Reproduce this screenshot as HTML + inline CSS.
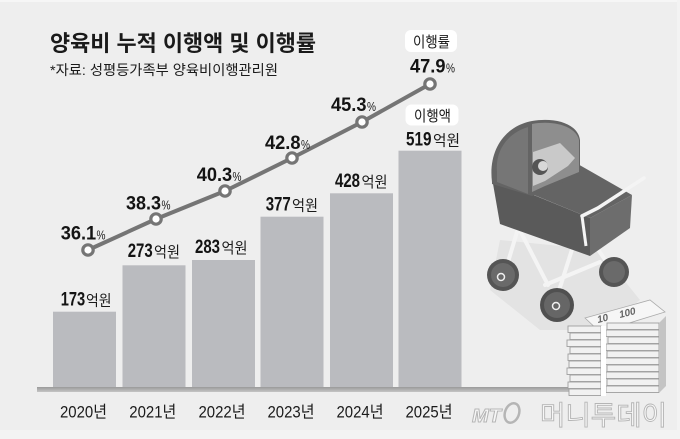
<!DOCTYPE html>
<html><head><meta charset="utf-8">
<style>
html,body{margin:0;padding:0;background:#eeeeee;}
svg{display:block;}
.num{font-family:"Liberation Sans",sans-serif;font-weight:bold;fill:#141414;}
.kr{font-family:"Liberation Sans","Noto Sans CJK KR",sans-serif;fill:#1a1a1a;}
</style></head><body>
<svg width="680" height="439" viewBox="0 0 680 439" xmlns="http://www.w3.org/2000/svg">
<rect x="0" y="0" width="680" height="439" fill="#eeeeee"/>
<rect x="0" y="0" width="680" height="2" fill="#f6f6f6"/>
<rect x="0" y="430" width="680" height="9" fill="#f3f3f3"/>
<rect x="677" y="0" width="3" height="439" fill="#f3f3f3"/>

<!-- Title -->
<text class="kr" x="50" y="51" font-size="22" font-weight="bold" textLength="266" lengthAdjust="spacingAndGlyphs">양육비 누적 이행액 및 이행률</text>
<text class="kr" x="50" y="75" font-size="14" textLength="228" lengthAdjust="spacingAndGlyphs" fill="#222">*자료: 성평등가족부 양육비이행관리원</text>

<!-- Bars -->
<g fill="#babbbf">
<rect x="53" y="311.7" width="63" height="77"/>
<rect x="122.5" y="265.3" width="63" height="123.4"/>
<rect x="192" y="260" width="63" height="128.7"/>
<rect x="260.5" y="216.7" width="63" height="172"/>
<rect x="330" y="193.3" width="63" height="195.4"/>
<rect x="398.5" y="150.7" width="63" height="238"/>
</g>
<defs>
<linearGradient id="ax" x1="0" y1="0" x2="0" y2="1">
<stop offset="0" stop-color="#9a9a9a"/><stop offset="1" stop-color="#c4c4c4"/>
</linearGradient>
</defs>
<rect x="37" y="387" width="540" height="5" fill="url(#ax)"/>

<!-- bar value labels -->
<g>
<text class="num" x="60.7" y="305.5" font-size="19" textLength="24.5" lengthAdjust="spacingAndGlyphs">173</text>
<text class="kr" x="86" y="305.5" font-size="15" textLength="25.5" lengthAdjust="spacingAndGlyphs">억원</text>
<text class="num" x="127.7" y="257" font-size="19" textLength="25" lengthAdjust="spacingAndGlyphs">273</text>
<text class="kr" x="154" y="257" font-size="15" textLength="26" lengthAdjust="spacingAndGlyphs">억원</text>
<text class="num" x="195" y="252.8" font-size="19" textLength="25" lengthAdjust="spacingAndGlyphs">283</text>
<text class="kr" x="221.5" y="252.8" font-size="15" textLength="26" lengthAdjust="spacingAndGlyphs">억원</text>
<text class="num" x="265.7" y="210.5" font-size="19" textLength="25" lengthAdjust="spacingAndGlyphs">377</text>
<text class="kr" x="292" y="210.5" font-size="15" textLength="26" lengthAdjust="spacingAndGlyphs">억원</text>
<text class="num" x="335" y="187" font-size="19" textLength="25" lengthAdjust="spacingAndGlyphs">428</text>
<text class="kr" x="361.5" y="187" font-size="15" textLength="26" lengthAdjust="spacingAndGlyphs">억원</text>
<text class="num" x="406" y="145.5" font-size="19" textLength="25.5" lengthAdjust="spacingAndGlyphs">519</text>
<text class="kr" x="433" y="145.5" font-size="15" textLength="27" lengthAdjust="spacingAndGlyphs">억원</text>
</g>

<!-- legend boxes -->
<rect x="405" y="30" width="52" height="22" rx="6" fill="#ffffff"/>
<text class="kr" x="413" y="47" font-size="15" textLength="37" lengthAdjust="spacingAndGlyphs" fill="#222">이행률</text>
<rect x="405.5" y="104.5" width="53" height="21" rx="6" fill="#ffffff"/>
<text class="kr" x="414" y="121" font-size="15" textLength="37" lengthAdjust="spacingAndGlyphs" fill="#222">이행액</text>

<!-- line -->
<polyline points="88,250 156,219 225,191 292,158 362,122 430,84" fill="none" stroke="#757575" stroke-width="4" stroke-linejoin="round"/>
<g fill="#ffffff" stroke="#757575" stroke-width="3.2">
<circle cx="88" cy="250" r="5.2"/>
<circle cx="156" cy="219" r="5.2"/>
<circle cx="225" cy="191" r="5.2"/>
<circle cx="292" cy="158" r="5.2"/>
<circle cx="362" cy="122" r="5.2"/>
<circle cx="430" cy="84" r="5.2"/>
</g>

<!-- percent labels -->
<g>
<text class="num" x="60.7" y="239.5" font-size="19" textLength="35.5" lengthAdjust="spacingAndGlyphs">36.1</text>
<text class="kr" x="96.5" y="239.5" font-size="13" textLength="9" lengthAdjust="spacingAndGlyphs">%</text>
<text class="num" x="126" y="209.5" font-size="19" textLength="35" lengthAdjust="spacingAndGlyphs">38.3</text>
<text class="kr" x="161.5" y="209.5" font-size="13" textLength="9" lengthAdjust="spacingAndGlyphs">%</text>
<text class="num" x="196.7" y="181" font-size="19" textLength="35.5" lengthAdjust="spacingAndGlyphs">40.3</text>
<text class="kr" x="232.5" y="181" font-size="13" textLength="9" lengthAdjust="spacingAndGlyphs">%</text>
<text class="num" x="265" y="149" font-size="19" textLength="35.5" lengthAdjust="spacingAndGlyphs">42.8</text>
<text class="kr" x="301" y="149" font-size="13" textLength="9" lengthAdjust="spacingAndGlyphs">%</text>
<text class="num" x="331" y="111" font-size="19" textLength="35.5" lengthAdjust="spacingAndGlyphs">45.3</text>
<text class="kr" x="367" y="111" font-size="13" textLength="9" lengthAdjust="spacingAndGlyphs">%</text>
<text class="num" x="410" y="72.5" font-size="19" textLength="35.5" lengthAdjust="spacingAndGlyphs">47.9</text>
<text class="kr" x="446" y="72.5" font-size="13" textLength="9" lengthAdjust="spacingAndGlyphs">%</text>
</g>

<!-- year labels -->
<g font-size="16.5">
<text class="kr" x="60" y="417.5" textLength="47" lengthAdjust="spacingAndGlyphs">2020년</text>
<text class="kr" x="129.3" y="417.5" textLength="47" lengthAdjust="spacingAndGlyphs">2021년</text>
<text class="kr" x="198.5" y="417.5" textLength="47" lengthAdjust="spacingAndGlyphs">2022년</text>
<text class="kr" x="267.5" y="417.5" textLength="47" lengthAdjust="spacingAndGlyphs">2023년</text>
<text class="kr" x="336.5" y="417.5" textLength="47" lengthAdjust="spacingAndGlyphs">2024년</text>
<text class="kr" x="405.5" y="417.5" textLength="47" lengthAdjust="spacingAndGlyphs">2025년</text>
</g>

<!-- Stroller -->
<g>
<polygon points="500,240 600,250 640,300 600,330 540,330 490,290" fill="#e3e3e3"/>
<g stroke="#f4f4f4" stroke-width="4" stroke-linecap="round" fill="none">
<line x1="512" y1="215" x2="548" y2="285"/>
<line x1="520" y1="222" x2="505" y2="272"/>
<line x1="575" y1="240" x2="556" y2="300"/>
<line x1="595" y1="245" x2="612" y2="270"/>
<line x1="545" y1="285" x2="600" y2="262"/>
</g>
<circle cx="503" cy="275" r="16" fill="#555"/>
<circle cx="503" cy="275" r="12" fill="#6a6a6a"/>
<circle cx="501" cy="277" r="3.5" fill="none" stroke="#f0f0f0" stroke-width="1.5"/>
<circle cx="614" cy="272" r="15" fill="#555"/>
<circle cx="614" cy="272" r="11" fill="#6a6a6a"/>
<!-- body side -->
<polygon points="492,178 590,218 590,256 500,224" fill="#5a5a5a"/>
<!-- body top -->
<polygon points="522,190 576,163 632,195 590,218" fill="#646464"/>
<!-- body front -->
<polygon points="590,218 632,195 630,228 590,256" fill="#6d6d6d"/>
<!-- hood -->
<path d="M492,182 C488,150 505,126 532,121 C556,117 578,124 580,140 L580,175 L532,196 L492,184 Z" fill="#646464"/>
<path d="M532,124 C553,120 576,126 579,140 L579,172 L545,186 L532,192 Z" fill="#8e8e8e"/>
<path d="M497,172 C495,150 508,133 528,127 L528,194 L497,182 Z" fill="#767676"/>
<polygon points="533,152 560,143 575,158 568,166 545,181 533,186" fill="#c9c9c9"/>
<circle cx="540" cy="167" r="8" fill="#555"/>
<circle cx="543" cy="166" r="5" fill="#d8d8d8"/>
<polyline points="582,216 598,208 644,178" fill="none" stroke="#f4f4f4" stroke-width="3.5" stroke-linecap="round"/>
<line x1="582" y1="216" x2="586" y2="246" stroke="#f4f4f4" stroke-width="3"/>
<circle cx="557" cy="305" r="17" fill="#505050"/>
<circle cx="557" cy="305" r="13" fill="#666"/>
<circle cx="556" cy="306" r="3.5" fill="none" stroke="#f0f0f0" stroke-width="1.5"/>
</g>

<!-- Money stack -->
<g>
<polygon points="585,318 650,300 665,312 600,332" fill="#f6f6f6" stroke="#aaaaaa" stroke-width="0.8"/>
<text x="598" y="323" font-family="Liberation Sans,sans-serif" font-style="italic" font-weight="bold" font-size="10" fill="#666" transform="rotate(-14 598 323)">10</text>
<text x="620" y="318" font-family="Liberation Sans,sans-serif" font-style="italic" font-weight="bold" font-size="10" fill="#666" transform="rotate(-14 620 318)">100</text>
<g fill="#f1f1f1" stroke="#9e9e9e" stroke-width="0.9">
<rect x="568" y="326" width="33" height="6.5"/><rect x="607" y="323" width="52" height="6.5"/>
<rect x="570" y="333" width="31" height="6.5"/><rect x="606" y="330" width="53" height="6.5"/>
<rect x="567" y="340" width="34" height="6.5"/><rect x="608" y="337" width="51" height="6.5"/>
<rect x="570" y="347" width="31" height="6.5"/><rect x="606" y="344" width="53" height="6.5"/>
<rect x="568" y="354" width="33" height="6.5"/><rect x="607" y="351" width="52" height="6.5"/>
<rect x="569" y="361" width="32" height="6.5"/><rect x="605" y="358" width="54" height="6.5"/>
<rect x="567" y="368" width="34" height="6.5"/><rect x="607" y="365" width="52" height="6.5"/>
<rect x="570" y="375" width="31" height="6.5"/><rect x="606" y="372" width="53" height="6.5"/>
<rect x="568" y="382" width="33" height="6.5"/><rect x="607" y="379" width="52" height="6.5"/>
<rect x="569" y="389" width="32" height="6.5"/><rect x="606" y="386" width="53" height="6.5"/>
</g>
<polygon points="659,323 666,316 666,386 659,393" fill="#c4c4c4"/>
<rect x="601" y="326" width="5" height="70" fill="#ffffff"/>
</g>

<!-- MT watermark -->
<g fill="#f7f7f7" stroke="#b5b5b5" stroke-width="0.9">
<text x="472" y="422" font-family="Liberation Sans,sans-serif" font-style="italic" font-weight="bold" font-size="18" textLength="29" lengthAdjust="spacingAndGlyphs">MT</text>
<ellipse cx="512" cy="413" rx="7" ry="10" transform="rotate(20 512 413)" fill="none" stroke="#b5b5b5" stroke-width="2.5"/>
<text x="540" y="425" font-family="Liberation Sans,'Noto Sans CJK KR',sans-serif" font-size="27" textLength="127" lengthAdjust="spacingAndGlyphs">머니투데이</text>
</g>
</svg>
</body></html>
